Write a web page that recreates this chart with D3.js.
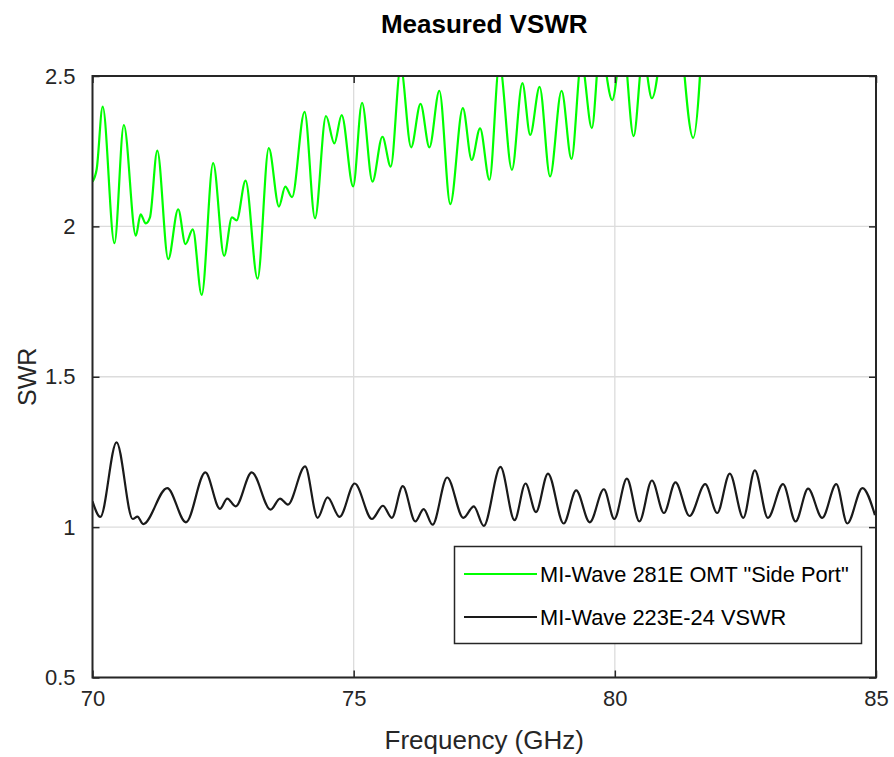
<!DOCTYPE html>
<html><head><meta charset="utf-8">
<script src="https://cdn.jsdelivr.net/npm/d3@7"></script>
<style>html,body{margin:0;padding:0;background:#fff;} svg{display:block;font-family:"Liberation Sans",Arial,Helvetica,sans-serif;}</style>
</head><body>
<div id="chart"></div>
<script>
const titleText = "Measured VSWR";
const xLabel = "Frequency (GHz)";
const yLabel = "SWR";
const xTicks = [70, 75, 80, 85];
const yTicks = [0.5, 1, 1.5, 2, 2.5];
const seriesNames = ["MI-Wave 281E OMT \"Side Port\"", "MI-Wave 223E-24 VSWR"];
const seriesColors = ["#00ff00", "#1a1a1a"];

const freqGreen = [70.00,70.08,70.195,70.42,70.60,70.83,70.92,71.02,71.10,71.24,71.45,71.64,71.78,71.92,72.09,72.31,72.52,72.67,72.76,72.93,73.16,73.375,73.57,73.69,73.82,74.06,74.26,74.47,74.63,74.77,74.99,75.16,75.36,75.55,75.71,75.90,76.10,76.28,76.45,76.64,76.85,77.09,77.26,77.42,77.60,77.79,78.03,78.23,78.38,78.56,78.76,78.98,79.17,79.36,79.56,79.72,79.95,80.15,80.36,80.54,80.71,81.10,81.50,81.75];
const swrGreen = [2.149,2.19,2.398,1.944,2.337,1.969,2.04,2.01,2.03,2.252,1.891,2.057,1.941,1.99,1.772,2.21,1.902,2.03,2.02,2.152,1.826,2.26,2.066,2.132,2.097,2.381,2.027,2.367,2.276,2.37,2.133,2.411,2.149,2.298,2.199,2.53,2.263,2.407,2.263,2.451,2.074,2.393,2.221,2.326,2.155,2.54,2.188,2.476,2.304,2.464,2.166,2.451,2.224,2.55,2.327,2.6,2.42,2.62,2.30,2.57,2.426,2.85,2.294,2.9];

const freqBlack = [70.00,70.15,70.46,70.77,70.86,70.97,71.43,71.79,72.16,72.44,72.58,72.74,73.05,73.41,73.59,73.74,74.07,74.31,74.50,74.73,75.02,75.35,75.56,75.73,75.94,76.18,76.34,76.51,76.79,77.10,77.30,77.49,77.81,78.08,78.29,78.49,78.72,79.02,79.26,79.52,79.79,79.99,80.23,80.47,80.71,80.94,81.16,81.43,81.73,81.96,82.20,82.46,82.68,82.93,83.22,83.46,83.70,83.97,84.24,84.45,84.74,84.98];
const swrBlack = [1.086,1.034,1.282,1.027,1.035,1.010,1.130,1.016,1.182,1.061,1.095,1.069,1.182,1.058,1.095,1.075,1.202,1.031,1.099,1.034,1.145,1.027,1.071,1.031,1.136,1.019,1.060,1.008,1.165,1.031,1.069,1.004,1.200,1.023,1.145,1.050,1.178,1.012,1.122,1.016,1.126,1.027,1.161,1.019,1.155,1.047,1.149,1.037,1.143,1.047,1.178,1.031,1.189,1.031,1.143,1.019,1.128,1.031,1.143,1.012,1.130,1.040];

const W = 894, H = 757;
const m = {left: 92.5, right: 894 - 876, top: 76, bottom: 757 - 677.5};
const iw = W - m.left - m.right, ih = H - m.top - m.bottom;

const svg = d3.select("#chart").append("svg").attr("width", W).attr("height", H);
const x = d3.scaleLinear().domain([70, 85]).range([m.left, m.left + iw]);
const y = d3.scaleLinear().domain([0.5, 2.5]).range([m.top + ih, m.top]);

// grid
const g = svg.append("g");
g.selectAll("line.gx").data(xTicks).enter().append("line")
  .attr("x1", d => x(d)).attr("x2", d => x(d)).attr("y1", m.top).attr("y2", m.top + ih)
  .attr("stroke", "#dcdcdc").attr("stroke-width", 1.3);
g.selectAll("line.gy").data(yTicks).enter().append("line")
  .attr("y1", d => y(d)).attr("y2", d => y(d)).attr("x1", m.left).attr("x2", m.left + iw)
  .attr("stroke", "#dcdcdc").attr("stroke-width", 1.3);

svg.append("clipPath").attr("id", "clip").append("rect")
  .attr("x", m.left).attr("y", m.top).attr("width", iw).attr("height", ih);

const line = d3.line().x(d => x(d[0])).y(d => y(d[1])).curve(d3.curveMonotoneX);
const greenData = freqGreen.map((f, i) => [f, swrGreen[i]]);
const blackData = freqBlack.map((f, i) => [f, swrBlack[i]]);
const plot = svg.append("g").attr("clip-path", "url(#clip)");
plot.append("path").datum(greenData).attr("d", line).attr("fill", "none")
  .attr("stroke", seriesColors[0]).attr("stroke-width", 2.2).attr("stroke-linejoin", "round");
plot.append("path").datum(blackData).attr("d", line).attr("fill", "none")
  .attr("stroke", seriesColors[1]).attr("stroke-width", 2.2).attr("stroke-linejoin", "round");

// axes
const tickFont = 22;
const axB = d3.axisBottom(x).tickValues(xTicks).tickSizeInner(-7).tickSizeOuter(0).tickPadding(13).tickFormat(d3.format("d"));
const axT = d3.axisTop(x).tickValues(xTicks).tickSizeInner(-7).tickSizeOuter(0).tickFormat("");
const axL = d3.axisLeft(y).tickValues(yTicks).tickSizeInner(-7).tickSizeOuter(0).tickPadding(17).tickFormat(d => d3.format("")(d));
const axR = d3.axisRight(y).tickValues(yTicks).tickSizeInner(-7).tickSizeOuter(0).tickFormat("");
function styleAxis(sel) {
  sel.select(".domain").remove();
  sel.selectAll("line").attr("stroke", "#262626").attr("stroke-width", 1.5);
  sel.selectAll("text").attr("fill", "#262626").style("font-size", tickFont + "px").style("font-family", "'Liberation Sans', Arial, sans-serif");
}
svg.append("g").attr("transform", `translate(0,${m.top + ih})`).call(axB).call(styleAxis);
svg.append("g").attr("transform", `translate(0,${m.top})`).call(axT).call(styleAxis);
svg.append("g").attr("transform", `translate(${m.left},0)`).call(axL).call(styleAxis);
svg.append("g").attr("transform", `translate(${m.left + iw},0)`).call(axR).call(styleAxis);

svg.append("rect").attr("x", m.left).attr("y", m.top).attr("width", iw).attr("height", ih)
  .attr("fill", "none").attr("stroke", "#262626").attr("stroke-width", 2);

// labels
svg.append("text").attr("x", x(77.5)).attr("y", 749).attr("text-anchor", "middle")
  .style("font-size", "26px").attr("fill", "#262626").text(xLabel);
svg.append("text").attr("transform", `translate(36,${(m.top + m.top + ih) / 2}) rotate(-90)`)
  .attr("text-anchor", "middle").style("font-size", "25px").attr("fill", "#262626").text(yLabel);
svg.append("text").attr("x", x(77.5)).attr("y", 33).attr("text-anchor", "middle")
  .style("font-size", "26px").style("font-weight", "bold").attr("fill", "#000").text(titleText);

// legend
const lg = svg.append("g");
lg.append("rect").attr("x", 454.5).attr("y", 546.5).attr("width", 407).attr("height", 97)
  .attr("fill", "#fff").attr("stroke", "#262626").attr("stroke-width", 1.5);
const legY = [574, 617];
seriesNames.forEach((name, i) => {
  lg.append("line").attr("x1", 464).attr("x2", 537).attr("y1", legY[i]).attr("y2", legY[i])
    .attr("stroke", seriesColors[i]).attr("stroke-width", 2.2);
  lg.append("text").attr("x", 540).attr("y", legY[i] + 7.5).style("font-size", "21.8px")
    .attr("fill", "#000").text(name);
});
</script>
</body></html>
